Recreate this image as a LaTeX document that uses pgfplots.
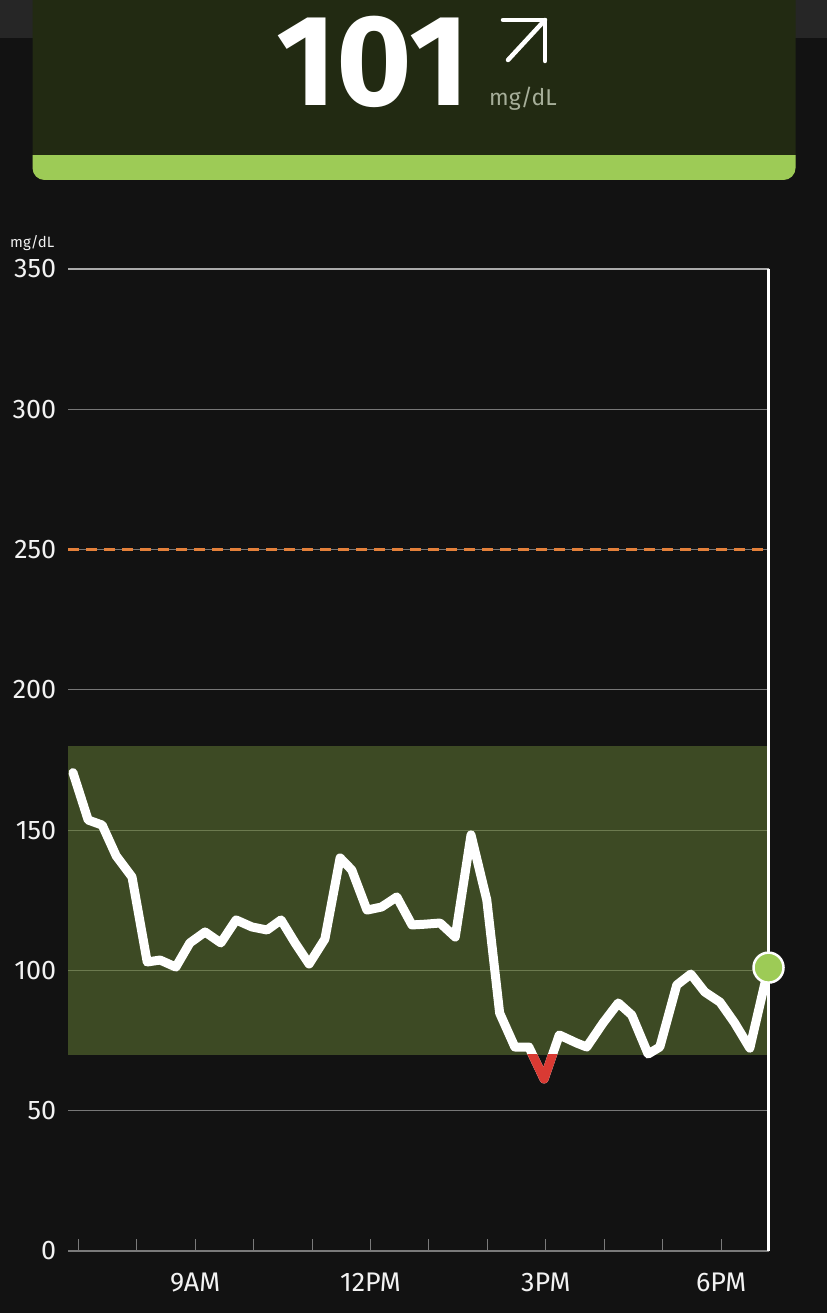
\documentclass[border=0pt]{standalone}
\usepackage{pgfplots}
\pgfplotsset{compat=1.18}
\usepackage{pgfplotstable}
\usepackage{fontspec}
\setmainfont{Fira Sans}
\definecolor{bg}{HTML}{121212}
\definecolor{topstrip}{HTML}{262626}
\definecolor{cardDark}{HTML}{222A12}
\definecolor{barGreen}{HTML}{9DCB56}
\definecolor{unitGray}{HTML}{A6AE99}
\definecolor{gridgray}{HTML}{777777}
\definecolor{topgrid}{HTML}{AAAAAA}
\definecolor{axisgray}{HTML}{7A7A7A}
\definecolor{bandgreen}{HTML}{3D4A24}
\definecolor{bandgrid}{HTML}{6C7A4F}
\definecolor{hiorange}{HTML}{E4803A}
\definecolor{lowred}{HTML}{D93A33}
\definecolor{labelwhite}{HTML}{F2F2F2}

\pgfplotstableread{
h v
6.91 170.5
7.17 153.6
7.41 151.8
7.65 140.8
7.92 133.3
8.18 103.0
8.40 103.7
8.67 101.2
8.91 109.8
9.17 113.7
9.44 109.8
9.70 118.0
9.97 115.5
10.23 114.4
10.47 118.0
10.71 109.8
10.95 102.3
11.22 111.2
11.48 140.1
11.68 135.8
11.94 121.5
12.19 122.6
12.45 126.2
12.71 116.2
12.95 116.5
13.19 116.9
13.45 111.9
13.72 148.3
13.99 125.1
14.21 84.8
14.47 72.7
14.71 72.7
14.97 61.3
15.23 77.0
15.53 74.1
15.70 72.7
15.98 81.3
16.24 88.4
16.47 84.1
16.75 70.2
16.95 72.7
17.24 94.8
17.48 98.7
17.72 92.3
17.98 88.7
18.23 81.3
18.49 72.3
18.81 101
}\glucose

\begin{document}
\begin{tikzpicture}[x=1bp,y=1bp]
\begin{scope}
\clip (0,0) rectangle (827,1313);
\fill[bg] (0,0) rectangle (827,1313);
\fill[topstrip] (0,1275) rectangle (827,1313);
\fill[cardDark, rounded corners=12bp] (32.5,1133) rectangle (795.5,1345);
\begin{scope}
\clip (0,1100) rectangle (827,1157);
\fill[barGreen, rounded corners=12bp] (32.5,1133) rectangle (795.5,1345);
\end{scope}
\node[anchor=base, inner sep=0pt, text=white, font=\fontsize{130}{130}\selectfont\bfseries] at (373,1207) {101};
\draw[white, line width=4.5bp, line cap=round, line join=round] (508,1253) -- (545,1293);
\draw[white, line width=4.5bp, line cap=round, line join=round] (503,1293) -- (545,1293) -- (545,1252);
\node[anchor=base west, inner sep=0pt, text=unitGray, font=\fontsize{23}{23}\selectfont] at (489,1207) {mg/dL};
\node[anchor=base west, inner sep=0pt, text=labelwhite, font=\fontsize{15}{15}\selectfont] at (10,1065) {mg/dL};
\end{scope}

\begin{axis}[
  at={(68.3bp,62bp)}, anchor=south west, scale only axis,
  width=700.2bp, height=982bp,
  xmin=6.83, xmax=18.81, ymin=0, ymax=350,
  axis lines*=left,
  axis line style={-},
  x axis line style={draw=axisgray, line width=2bp},
  y axis line style={draw=none},
  ytick={0,50,100,150,200,250,300,350},
  ymajorgrids,
  major grid style={draw=gridgray, line width=1.2bp},
  xtick={9,12,15,18},
  xticklabels={9AM,12PM,3PM,6PM},
  minor xtick={7,8,10,11,13,14,16,17},
  tick align=inside,
  major tick length=12bp, minor tick length=12bp,
  xtick style={draw=axisgray, line width=1bp},
  minor x tick style={draw=axisgray, line width=1bp},
  ytick style={draw=none},
  yticklabel style={anchor=east, inner sep=0pt, xshift=-12bp, text=labelwhite, font=\fontsize{27}{27}\selectfont},
  xticklabel style={anchor=base, inner sep=0pt, yshift=-41bp, text=labelwhite, font=\fontsize{27}{27}\selectfont},
  /pgf/number format/assume math mode=true,
  clip=false,
]
\fill[bandgreen] (axis cs:6.83,70) rectangle (axis cs:18.81,180);
\draw[bandgrid, line width=1.2bp] (axis cs:6.83,100) -- (axis cs:18.81,100);
\draw[bandgrid, line width=1.2bp] (axis cs:6.83,150) -- (axis cs:18.81,150);
\draw[topgrid, line width=2bp] (axis cs:6.83,350) -- (axis cs:18.81,350);
\draw[hiorange, line width=3.5bp, dash pattern=on 11bp off 7bp] (axis cs:6.83,250) -- (axis cs:18.81,250);
\draw[white, line width=3.5bp] (axis cs:18.81,0) -- (axis cs:18.81,350);
\addplot[white, line width=9bp, line join=round, line cap=round] table[x=h,y=v]{\glucose};
\begin{scope}
\clip (axis cs:14.6,0) rectangle (axis cs:15.35,70);
\addplot[lowred, line width=9bp, line join=round, line cap=round] table[x=h,y=v]{\glucose};
\end{scope}
\addplot[only marks, mark=*, mark size=15bp, mark options={fill=barGreen, draw=white, line width=2.5bp}] coordinates {(18.81,101)};
\end{axis}
\pgfresetboundingbox
\useasboundingbox (0,0) rectangle (827,1313);
\end{tikzpicture}
\end{document}
